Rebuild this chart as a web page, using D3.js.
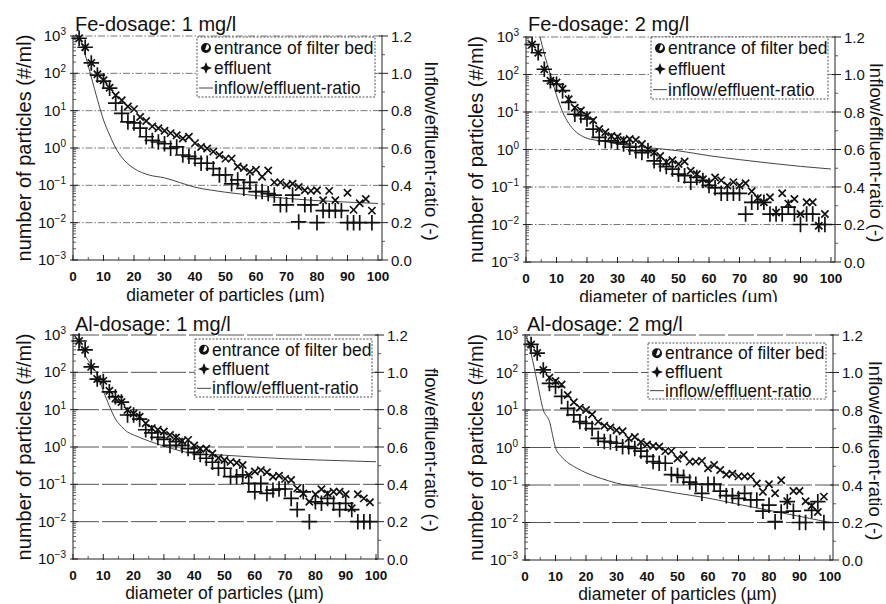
<!DOCTYPE html>
<html><head><meta charset="utf-8">
<script src="https://cdn.jsdelivr.net/npm/d3@7"></script>
<style>
body{margin:0;background:#fff}
svg{display:block}
text{font-family:"Liberation Sans",Arial,Helvetica,sans-serif;fill:#111}
</style>
</head><body>
<svg id="chart" width="886" height="604"></svg>
<script>
// ---------------- DATA ----------------
const diameters = [2,4,6,8,10,12,14,16,18,20,22,24,26,28,30,32,34,36,38,40,42,44,46,48,50,52,54,56,58,60,62,64,66,68,70,72,74,76,78,80,82,84,86,88,90,92,94,96,98];
const xTicks = [0,10,20,30,40,50,60,70,80,90,100];
const logTicks = [1e-3,1e-2,1e-1,1e0,1e1,1e2,1e3];
const logExponents = ["−3","−2","−1","0","1","2","3"];
const ratioTicks = [0.0,0.2,0.4,0.6,0.8,1.0,1.2];

const titles = ["Fe-dosage: 1 mg/l","Fe-dosage: 2 mg/l","Al-dosage: 1 mg/l","Al-dosage: 2 mg/l"];
const rightLabels = ["Inflow/effluent-ratio (-)","Inflow/effluent-ratio (-)","flow/effluent-ratio (-)","Inflow/effluent-ratio (-)"];
const legendLabels = ["entrance of filter bed","effluent","inflow/effluent-ratio"];
const yLabel = "number of particles (#/ml)";
const xLabel = "diameter of particles (µm)";

// Fe 1 mg/l
const fe1Entrance = [870,500,190,94,65,41,26,19,13,11,6.8,5.3,3.8,3.4,2.9,2.5,2.2,1.8,2.0,1.35,1.07,0.97,0.8,0.65,0.52,0.52,0.32,0.29,0.23,0.26,0.17,0.25,0.12,0.12,0.10,0.11,0.09,0.074,0.071,0.074,0.04,0.071,0.04,null,0.063,0.022,0.033,0.043,0.021];
const fe1Effluent = [870,500,190,90,62,40,16,8.5,5.0,4.7,3.4,2.0,1.6,1.45,1.3,0.98,1.07,0.65,0.6,0.52,0.39,0.39,0.28,0.19,0.19,0.11,0.14,0.083,0.12,0.068,0.068,0.06,0.055,0.03,0.03,0.055,0.0105,0.03,0.03,0.01,0.021,0.021,0.021,0.021,0.01,0.01,0.01,null,0.01];
const fe1RatioX = [2,4,6,8,10,12,14,16,18,20,25,30,35,40,45,50,60,70,80,90,100];
const fe1Ratio = [1.2,1.1,0.98,0.86,0.75,0.67,0.6,0.55,0.515,0.49,0.455,0.44,0.415,0.39,0.375,0.363,0.345,0.33,0.318,0.31,0.303];

// Fe 2 mg/l
const fe2Entrance = [630,380,138,68,61,41,22,13,11,8,6,3.5,2.9,2.3,2.2,1.8,1.9,1.8,1.4,1.0,0.83,0.67,0.46,0.52,0.41,0.48,0.27,0.22,0.16,0.125,0.18,0.15,0.11,0.135,0.11,0.126,0.077,0.051,0.039,0.053,0.021,0.068,0.036,0.048,0.019,0.039,0.039,0.0093,0.019];
const fe2Effluent = [630,380,138,68,55,37,18,8.7,8,6.5,3.5,2.1,1.7,1.7,1.55,1.4,1.15,0.93,0.83,0.93,0.5,0.41,0.35,0.30,0.22,0.2,0.134,0.18,0.15,0.11,0.095,0.068,0.068,0.068,0.068,0.019,0.039,0.039,0.039,0.019,0.019,0.019,0.029,0.019,0.01,0.019,0.019,0.01,0.01];
const fe2RatioX = [4.6,6,8,10,12,14,16,18,20,25,30,40,50,60,70,80,90,100];
const fe2Ratio = [1.2,1.11,1.0,0.89,0.8,0.74,0.7,0.675,0.66,0.645,0.63,0.61,0.593,0.567,0.546,0.527,0.51,0.496];

// Al 1 mg/l
const al1Entrance = [690,400,140,66,59,32,20,16,9.8,7.9,6.5,4.3,3.2,2.9,2.6,2.1,1.8,1.45,1.55,1.1,0.9,0.9,0.67,0.51,0.45,0.4,0.38,0.33,0.18,0.22,0.24,0.21,0.16,0.17,0.14,0.13,0.078,0.057,0.034,0.054,0.074,0.057,0.063,0.063,0.054,0.023,0.054,0.042,0.033];
const al1Effluent = [690,400,140,66,57,30,22,16,7.2,7.2,5.6,2.9,2.4,1.8,1.6,1.1,1.4,1.1,0.91,0.72,0.63,0.5,0.39,0.27,0.27,0.16,0.16,0.18,0.107,0.063,0.107,0.057,0.07,0.075,0.075,0.042,0.021,0.063,0.01,0.034,0.031,0.042,0.031,0.021,0.031,0.021,0.01,0.01,0.01];
const al1RatioX = [0.5,2,4,6,8,10,12,14,16,18,20,25,30,40,50,60,70,80,90,100];
const al1Ratio = [1.2,1.16,1.09,1.04,0.99,0.9,0.82,0.75,0.71,0.68,0.665,0.632,0.605,0.565,0.556,0.546,0.537,0.531,0.526,0.521];

// Al 2 mg/l
const al2Entrance = [560,330,117,73,59,48,25,16,11.5,10,7.6,4.9,3.8,3.4,2.9,2.7,1.75,1.9,1.4,1.2,1.1,1.05,0.8,0.8,0.51,0.63,0.42,0.42,0.44,0.28,0.34,0.25,0.19,0.2,0.17,0.17,0.17,0.11,0.066,0.105,0.06,0.134,0.037,0.069,0.069,0.037,0.028,0.019,0.049];
const al2Effluent = [560,330,117,51,42,23,11,7.4,4.9,4.4,3.2,1.75,1.45,1.4,1.3,1.05,1.05,0.94,0.8,0.58,0.42,0.38,0.38,0.19,0.18,0.16,0.12,0.105,0.06,0.105,0.105,0.069,0.052,0.052,0.044,0.06,0.04,0.04,0.02,0.029,0.0105,0.019,0.036,0.02,0.01,0.01,0.021,0.036,0.01];
const al2RatioX = [0.5,2,4,6,8,10,12,14,17,20,25,30,40,50,60,70,80,90,100];
const al2Ratio = [1.19,1.1,0.95,0.8,0.74,0.6,0.55,0.52,0.49,0.465,0.435,0.41,0.383,0.356,0.33,0.297,0.265,0.233,0.2];

// ---------------- LAYOUT ----------------
const layouts = [
  {left:73, x100:378, right:382, top:36, bottom:260, titleY:31, yLabX:24, rLabX:431, xLabY:301, leg:{x:197,y:37,w:178,h:60}, clipTop:true, grid:{c:"#777",d:"7,2,1.5,2"}},
  {left:526, x100:831, right:835, top:37, bottom:262, titleY:31, yLabX:476, rLabX:876, xLabY:303, leg:{x:651,y:37,w:177,h:62}, clipTop:true, grid:{c:"#777",d:"7,2,1.5,2"}},
  {left:73, x100:376, right:378, top:335, bottom:559, titleY:331, yLabX:24, rLabX:431, xLabY:599, leg:{x:195,y:339,w:177,h:58}, clipTop:false, grid:{c:"#555",d:"26,3"}},
  {left:525, x100:830, right:833, top:335, bottom:560, titleY:331, yLabX:476, rLabX:875, xLabY:600, leg:{x:648,y:343,w:178,h:56}, clipTop:false, grid:{c:"#555",d:"26,3"}}
];
const panelData = [
  {entrance:fe1Entrance, effluent:fe1Effluent, rx:fe1RatioX, ry:fe1Ratio},
  {entrance:fe2Entrance, effluent:fe2Effluent, rx:fe2RatioX, ry:fe2Ratio},
  {entrance:al1Entrance, effluent:al1Effluent, rx:al1RatioX, ry:al1Ratio},
  {entrance:al2Entrance, effluent:al2Effluent, rx:al2RatioX, ry:al2Ratio}
];

const svg = d3.select("#chart");
svg.append("defs").append("clipPath").attr("id","topclip")
  .append("rect").attr("x",0).attr("y",0).attr("width",886).attr("height",302);

const timesPath = d3.symbol(d3.symbolTimes, 36)();
const plusPath = d3.symbol(d3.symbolPlus, 80)();
// 4-point star shape for the legend
const star4 = {draw(ctx, size){ const r = Math.sqrt(size)*0.75, q = r*0.28;
  ctx.moveTo(0,-r); ctx.lineTo(q,-q); ctx.lineTo(r,0); ctx.lineTo(q,q);
  ctx.lineTo(0,r); ctx.lineTo(-q,q); ctx.lineTo(-r,0); ctx.lineTo(-q,-q); ctx.closePath(); }};

layouts.forEach((L, i) => {
  const D = panelData[i];
  const g = svg.append("g");
  if (L.clipTop) g.attr("clip-path","url(#topclip)");

  const x = d3.scaleLinear().domain([0,100]).range([L.left, L.x100]);
  const y = d3.scaleLog().domain([1e-3,1e3]).range([L.bottom, L.top]);
  const yr = d3.scaleLinear().domain([0,1.2]).range([L.bottom, L.top]);

  // grid lines at decades
  g.selectAll(".grid").data(logTicks.slice(1)).enter().append("line")
    .attr("x1", L.left).attr("x2", L.right)
    .attr("y1", d => y(d)).attr("y2", d => y(d))
    .attr("stroke", L.grid.c).attr("stroke-width", 1)
    .attr("stroke-dasharray", L.grid.d);

  // ratio line
  const line = d3.line().x(d => x(d[0])).y(d => yr(d[1])).curve(d3.curveMonotoneX);
  g.append("path").datum(D.rx.map((v,k) => [v, D.ry[k]]))
    .attr("d", line).attr("fill","none").attr("stroke","#444").attr("stroke-width",1);

  // markers
  const ent = diameters.map((d,k) => [d, D.entrance[k]]).filter(p => p[1] != null);
  const eff = diameters.map((d,k) => [d, D.effluent[k]]).filter(p => p[1] != null);
  g.selectAll(".ent").data(ent).enter().append("path")
    .attr("d", timesPath).attr("transform", d => `translate(${x(d[0])},${y(d[1])})`)
    .attr("fill","none").attr("stroke","#111").attr("stroke-width",1.7);
  g.selectAll(".eff").data(eff).enter().append("path")
    .attr("d", plusPath).attr("transform", d => `translate(${x(d[0])},${y(d[1])})`)
    .attr("fill","none").attr("stroke","#111").attr("stroke-width",1.7);

  // axes lines
  g.append("line").attr("x1",L.left).attr("x2",L.left).attr("y1",L.top-1).attr("y2",L.bottom).attr("stroke","#222").attr("stroke-width",1);
  g.append("line").attr("x1",L.right).attr("x2",L.right).attr("y1",L.top-1).attr("y2",L.bottom).attr("stroke","#222").attr("stroke-width",1);
  g.append("line").attr("x1",L.left).attr("x2",L.right).attr("y1",L.bottom).attr("y2",L.bottom).attr("stroke","#222").attr("stroke-width",1);

  // left log axis ticks
  const minor = [];
  for (let e = -3; e < 3; e++) for (let m = 2; m <= 9; m++) minor.push(m * Math.pow(10, e));
  g.selectAll(".lmin").data(minor).enter().append("line")
    .attr("x1",L.left).attr("x2",L.left+3).attr("y1",d=>y(d)).attr("y2",d=>y(d))
    .attr("stroke","#333").attr("stroke-width",0.8);
  g.selectAll(".lmaj").data(logTicks).enter().append("line")
    .attr("x1",L.left-3).attr("x2",L.left+5).attr("y1",d=>y(d)).attr("y2",d=>y(d))
    .attr("stroke","#222").attr("stroke-width",1);
  const lt = g.selectAll(".ltl").data(logTicks).enter().append("text")
    .attr("x", L.left-7).attr("y", d => y(d)+5)
    .attr("text-anchor","end").attr("font-size",15);
  lt.append("tspan").text("10");
  lt.append("tspan").attr("dy",-6).attr("font-size",10).text((d,k) => logExponents[k]);

  // right ratio axis
  const rmin = [0.1,0.3,0.5,0.7,0.9,1.1];
  g.selectAll(".rmin").data(rmin).enter().append("line")
    .attr("x1",L.right).attr("x2",L.right+3).attr("y1",d=>yr(d)).attr("y2",d=>yr(d))
    .attr("stroke","#333").attr("stroke-width",0.8);
  g.selectAll(".rmaj").data(ratioTicks).enter().append("line")
    .attr("x1",L.right-3).attr("x2",L.right+6).attr("y1",d=>yr(d)).attr("y2",d=>yr(d))
    .attr("stroke","#222").attr("stroke-width",1);
  g.selectAll(".rtl").data(ratioTicks).enter().append("text")
    .attr("x", L.right+9).attr("y", d => yr(d)+5.5)
    .attr("font-size",15).text(d => d.toFixed(1));

  // x axis ticks
  g.selectAll(".xmin").data(xTicks.slice(0,-1).map(v=>v+5)).enter().append("line")
    .attr("x1",d=>x(d)).attr("x2",d=>x(d)).attr("y1",L.bottom).attr("y2",L.bottom-3)
    .attr("stroke","#333").attr("stroke-width",0.8);
  g.selectAll(".xmaj").data(xTicks).enter().append("line")
    .attr("x1",d=>x(d)).attr("x2",d=>x(d)).attr("y1",L.bottom+1).attr("y2",L.bottom-5)
    .attr("stroke","#222").attr("stroke-width",1);
  g.selectAll(".xtl").data(xTicks).enter().append("text")
    .attr("x", d => x(d)).attr("y", L.bottom+21)
    .attr("text-anchor","middle").attr("font-size",13.5).attr("font-weight","bold").text(d => d);

  // title
  g.append("text").attr("x", L.left+2).attr("y", L.titleY).attr("font-size",20).text(titles[i]);

  // axis labels
  g.append("text").attr("transform",`translate(${L.yLabX},${(L.top+L.bottom)/2}) rotate(-90)`)
    .attr("text-anchor","middle").attr("dominant-baseline","central").attr("font-size",20).text(yLabel);
  g.append("text").attr("transform",`translate(${L.rLabX},${(L.top+L.bottom)/2+3}) rotate(90)`)
    .attr("text-anchor","middle").attr("dominant-baseline","central").attr("font-size",18.5).text(rightLabels[i]);
  g.append("text").attr("x",(L.left+L.x100)/2).attr("y",L.xLabY)
    .attr("text-anchor","middle").attr("font-size",17.5).text(xLabel);

  // legend
  const lg = g.append("g").attr("transform",`translate(${L.leg.x},${L.leg.y})`);
  lg.append("rect").attr("width",L.leg.w).attr("height",L.leg.h)
    .attr("fill","#fff").attr("stroke","#555").attr("stroke-width",1).attr("stroke-dasharray","2,1.5");
  const rowH = L.leg.h/3;
  legendLabels.forEach((lab, k) => {
    const cy = rowH*(k+0.5)+1;
    lg.append("text").attr("x",17).attr("y",cy+6).attr("font-size",17.5).text(lab);
    if (k === 0) {
      lg.append("circle").attr("cx",9).attr("cy",cy).attr("r",5).attr("fill","#111");
      lg.append("path").attr("d", d3.arc()({innerRadius:0,outerRadius:3,startAngle:Math.PI*0.1,endAngle:Math.PI*1.1}))
        .attr("transform",`translate(${9},${cy-1})`).attr("fill","#fff");
    } else if (k === 1) {
      lg.append("path").attr("d", d3.symbol(star4, 64)())
        .attr("transform",`translate(9,${cy})`).attr("fill","#111");
    } else {
      lg.append("line").attr("x1",2).attr("x2",16).attr("y1",cy).attr("y2",cy)
        .attr("stroke","#444").attr("stroke-width",1);
    }
  });
});
</script>
</body></html>
